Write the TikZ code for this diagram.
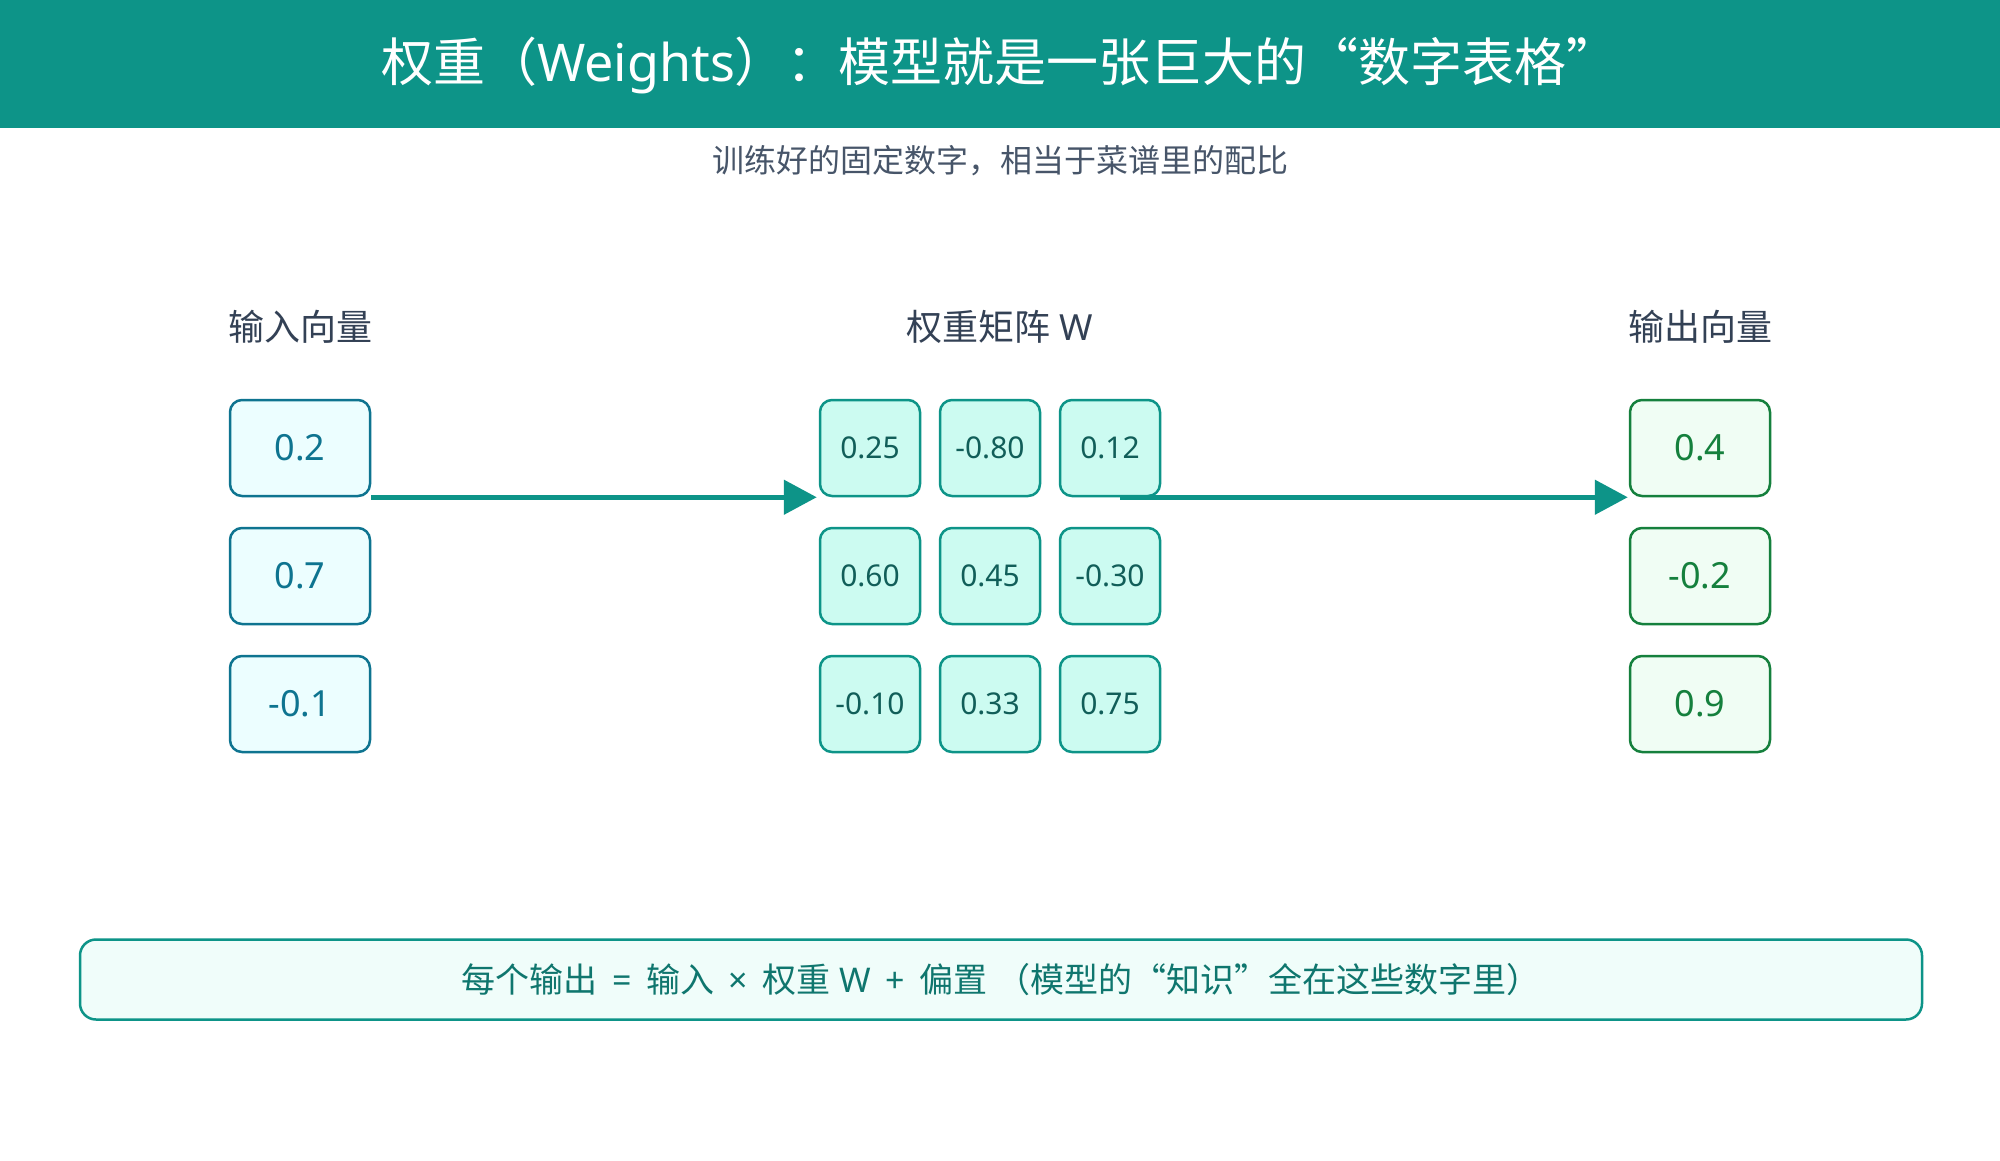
\documentclass[tikz,border=0pt]{standalone}
\usepackage{fontspec}
\setmainfont{Noto Sans}
\newfontfamily\cjk{Noto Sans CJK SC}
\usetikzlibrary{arrows.meta}
\definecolor{hdr}{HTML}{0D9488}
\definecolor{inbd}{HTML}{0E7490}
\definecolor{infill}{HTML}{ECFEFF}
\definecolor{mbd}{HTML}{0D9488}
\definecolor{mfill}{HTML}{CCFBF1}
\definecolor{mtext}{HTML}{115E59}
\definecolor{outbd}{HTML}{15803D}
\definecolor{outfill}{HTML}{F0FDF4}
\definecolor{headtext}{HTML}{334155}
\definecolor{subtext}{HTML}{475569}
\definecolor{notefill}{HTML}{F0FDFA}
\definecolor{notetext}{HTML}{0F766E}
\newcommand{\myLq}{\makebox[1em][r]{“}}
\newcommand{\myRq}{\makebox[1em][l]{”}}
\begin{document}
\begin{tikzpicture}[x=1pt,y=-1pt,
  vecbox/.style={draw, line width=2.5pt, rounded corners=12pt, minimum width=140pt, minimum height=96pt, inner sep=0pt, font=\fontsize{36}{40}\selectfont},
  inbox/.style={vecbox, draw=inbd, fill=infill, text=inbd},
  outbox/.style={vecbox, draw=outbd, fill=outfill, text=outbd},
  mbox/.style={draw=mbd, fill=mfill, text=mtext, line width=2.5pt, rounded corners=12pt, minimum width=100pt, minimum height=96pt, inner sep=0pt, font=\fontsize{30}{34}\selectfont},
  colhead/.style={text=headtext, inner sep=0pt, font=\fontsize{36}{40}\selectfont},
  flow/.style={draw=hdr, line width=5pt, -{Triangle[length=33pt,width=34pt]}}
]
\useasboundingbox (0,0) rectangle (2000,1160);
\fill[white] (0,0) rectangle (2000,1160);
\fill[hdr] (0,0) rectangle (2000,128);
\node[text=white, inner sep=0pt, font=\fontsize{52}{60}\selectfont] (title) at (1000,65)
  {\cjk 权重（\normalfont Weights\cjk ）：模型就是一张巨大的\myLq 数字表格\myRq};
\node[text=subtext, inner sep=0pt, font=\fontsize{32}{36}\selectfont] (sub) at (1000,161)
  {\cjk 训练好的固定数字，相当于菜谱里的配比};

\node[colhead] (hin) at (300,327) {\cjk 输入向量};
\node[colhead] (hw) at (1000,327) {{\cjk 权重矩阵} W};
\node[colhead] (hout) at (1700,327) {\cjk 输出向量};

\node[inbox] (in1) at (300,448) {\raisebox{-1.5pt}{0.2}};
\node[inbox] (in2) at (300,576) {\raisebox{-1.5pt}{0.7}};
\node[inbox] (in3) at (300,704) {\raisebox{-1.5pt}{-0.1}};

\node[mbox] (m11) at (870,448) {\raisebox{-1.5pt}{0.25}};
\node[mbox] (m12) at (990,448) {\raisebox{-1.5pt}{-0.80}};
\node[mbox] (m13) at (1110,448) {\raisebox{-1.5pt}{0.12}};
\node[mbox] (m21) at (870,576) {\raisebox{-1.5pt}{0.60}};
\node[mbox] (m22) at (990,576) {\raisebox{-1.5pt}{0.45}};
\node[mbox] (m23) at (1110,576) {\raisebox{-1.5pt}{-0.30}};
\node[mbox] (m31) at (870,704) {\raisebox{-1.5pt}{-0.10}};
\node[mbox] (m32) at (990,704) {\raisebox{-1.5pt}{0.33}};
\node[mbox] (m33) at (1110,704) {\raisebox{-1.5pt}{0.75}};

\node[outbox] (out1) at (1700,448) {\raisebox{-1.5pt}{0.4}};
\node[outbox] (out2) at (1700,576) {\raisebox{-1.5pt}{-0.2}};
\node[outbox] (out3) at (1700,704) {\raisebox{-1.5pt}{0.9}};

\draw[flow] (in1.south east) -- ([xshift=-2pt]m11.south west);
\draw[flow] ([xshift=10pt]m13.south) -- ([xshift=-1pt]out1.south west);

\node[draw=hdr, fill=notefill, line width=2.5pt, rounded corners=16pt, minimum width=1842pt, minimum height=80pt, inner sep=0pt,
  text=notetext, font=\fontsize{34}{38}\selectfont] (note) at (1001,979.5)
  {{\cjk 每个输出}\, = \,{\cjk 输入}\, × \,{\cjk 权重} W\, + \,{\cjk 偏置} {\cjk （模型的\myLq 知识\myRq 全在这些数字里）}};
\end{tikzpicture}
\end{document}
